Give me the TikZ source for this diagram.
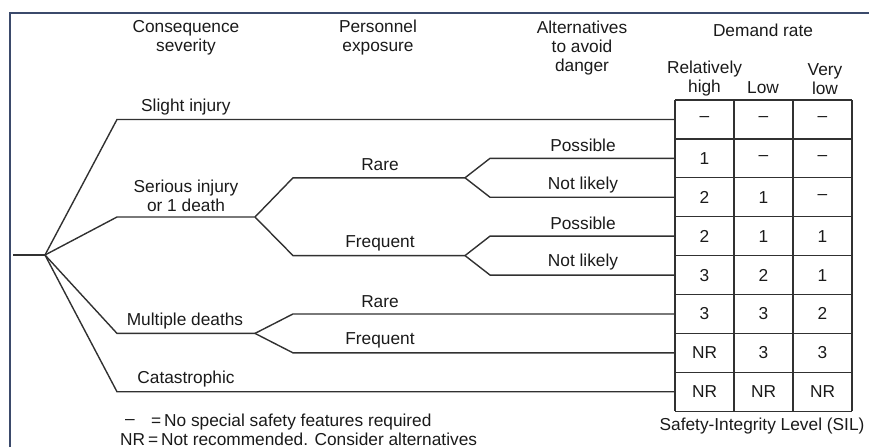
\documentclass[tikz,border=0pt]{standalone}
\usepackage{fontspec}
\setmainfont{Liberation Sans}
\definecolor{framec}{HTML}{3B4A6B}
\definecolor{ink}{HTML}{1A1A1A}
\newcommand{\fsz}{\fontsize{17.3}{19}\selectfont}
\begin{document}
\begin{tikzpicture}[x=1pt,y=-1pt,
  txt/.style={font=\fsz, text=ink, inner sep=0pt, align=center},
  br/.style={line width=1.4pt, draw=ink!90, line join=miter},
  grid/.style={line width=1.3pt, draw=ink!90},
  frame/.style={line width=2pt, draw=framec},
  cell/.style={font=\fsz, text=ink, inner sep=0pt}]
\useasboundingbox (0,0) rectangle (869,447);
% frame
\draw[frame] (10,447) -- (10,13) -- (869,13);
% headers
\node[txt] (h1) at (186,37.5) {Consequence\\severity};
\node[txt] (h2) at (378,37.5) {Personnel\\exposure};
\node[txt] (h3) at (582,48) {Alternatives\\to avoid\\danger};
\node[txt] (h4) at (763,30) {Demand rate};
\node[txt] (h5) at (704.5,79) {Relatively\\high};
\node[txt] (h6) at (763,88) {Low};
\node[txt] (h7) at (825,79) {Very\\low};
% table
\foreach \i in {0,...,8} {
  \draw[grid] (675,{100+\i*38.9}) -- (852,{100+\i*38.9});
}
\foreach \xx in {675,734,793,852} {
  \draw[grid] (\xx,100) -- (\xx,{100+8*38.9});
}
\foreach \r/\a/\b/\c in {1/--/--/--, 2/1/--/--, 3/2/1/--, 4/2/1/1, 5/3/2/1, 6/3/3/2, 7/NR/3/3, 8/NR/NR/NR} {
  \node[cell] (t\r a) at (704.5,{100+(\r-0.5)*38.9}) {\a};
  \node[cell] (t\r b) at (763.5,{100+(\r-0.5)*38.9}) {\b};
  \node[cell] (t\r c) at (822.5,{100+(\r-0.5)*38.9}) {\c};
  \coordinate (row\r) at (675,{100+(\r-0.5)*38.9});
}
\node[txt] (sil) at (762,426) {Safety-Integrity Level (SIL)};
% tree coordinates
\coordinate (r0) at (13,255);
\coordinate (r) at (45,255);
\coordinate (s1) at (117,119.45);
\coordinate (a1) at (117,217);
\coordinate (a2) at (255,217);
\coordinate (b1) at (293,177.8);
\coordinate (b2) at (465,177.8);
\coordinate (bp) at (490,158.35);
\coordinate (bn) at (490,197.25);
\coordinate (c1) at (293,255.6);
\coordinate (c2) at (465,255.6);
\coordinate (cp) at (490,236.15);
\coordinate (cn) at (490,275.05);
\coordinate (m1) at (117,333.4);
\coordinate (m2) at (255,333.4);
\coordinate (mr) at (293,313.95);
\coordinate (mf) at (293,352.85);
\coordinate (k1) at (117,391.75);
% branches
\draw[br] (r0) -- (r);
\draw[br] (r) -- (s1) -- (row1);
\draw[br] (r) -- (a1) -- (a2);
\draw[br] (a2) -- (b1) -- (b2);
\draw[br] (b2) -- (bp) -- (row2);
\draw[br] (b2) -- (bn) -- (row3);
\draw[br] (a2) -- (c1) -- (c2);
\draw[br] (c2) -- (cp) -- (row4);
\draw[br] (c2) -- (cn) -- (row5);
\draw[br] (r) -- (m1) -- (m2);
\draw[br] (m2) -- (mr) -- (row6);
\draw[br] (m2) -- (mf) -- (row7);
\draw[br] (r) -- (k1) -- (row8);
% labels
\node[txt, anchor=west] (l1) at (141,107) {Slight injury};
\node[txt] (l2) at (186,196) {Serious injury\\or 1 death};
\node[txt] (l3) at (380,165) {Rare};
\node[txt] (l4) at (380,243) {Frequent};
\node[txt] (l5) at (583,145) {Possible};
\node[txt] (l6) at (583,185) {Not likely};
\node[txt] (l7) at (583,223) {Possible};
\node[txt] (l8) at (583,262) {Not likely};
\node[txt] (l9) at (380,302) {Rare};
\node[txt] (l10) at (185,321) {Multiple deaths};
\node[txt] (l11) at (380,340) {Frequent};
\node[txt] (l12) at (186,379) {Catastrophic};
% legend
\node[txt] (g1) at (130,422) {--};
\node[txt, anchor=west] (g2) at (151,422) {=\,No special safety features required};
\node[txt, anchor=base west] (g3) at (120,445) {NR\,=\,Not recommended. Consider alternatives};
\end{tikzpicture}
\end{document}
